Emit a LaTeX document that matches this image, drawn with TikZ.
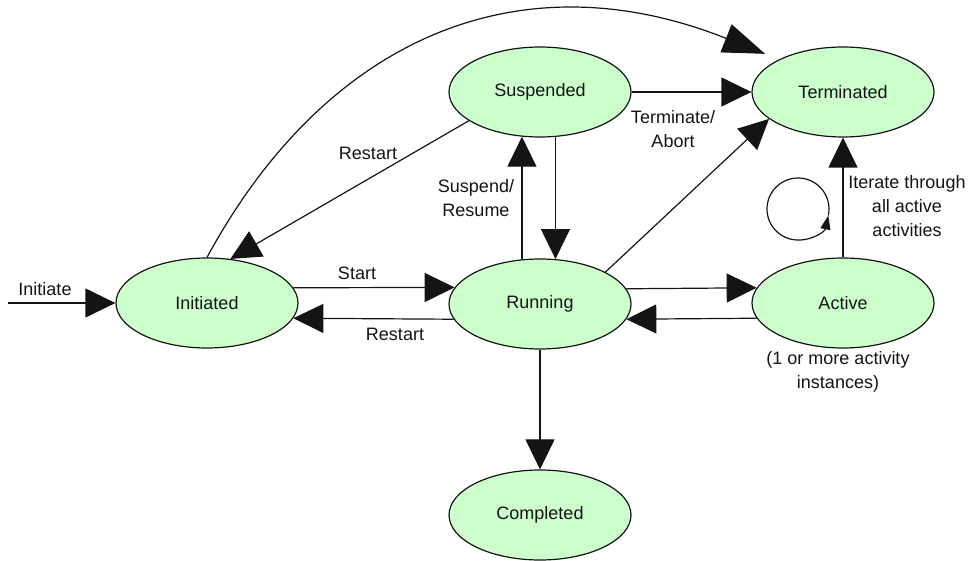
\documentclass[tikz,border=0pt]{standalone}
\usepackage{fontspec}
\setmainfont{Liberation Sans}
\usetikzlibrary{arrows.meta,shapes.geometric}
\definecolor{stategreen}{RGB}{204,255,204}
\definecolor{inkdark}{RGB}{20,20,20}
\tikzset{
  state/.style={ellipse, draw=inkdark, line width=1.2pt, fill=stategreen,
    minimum width=182pt, minimum height=90pt, inner sep=0pt,
    font=\fontsize{18}{24}\selectfont, text=inkdark},
  lbl/.style={inner sep=0pt, align=center, font=\fontsize{18}{24}\selectfont, text=inkdark},
  arr/.style={draw=inkdark, line width=1.2pt, -{Triangle[length=30pt,width=29pt]}},
  longarr/.style={draw=inkdark, line width=1.2pt, -{Triangle[length=42pt,width=30pt]}},
  looparr/.style={draw=inkdark, line width=1.2pt, -{Triangle[length=14pt,width=10pt]}}
}
\begin{document}
\begin{tikzpicture}[x=1pt,y=-1pt]
\useasboundingbox (0,0) rectangle (970,561);

% states
\node[state] (Init) at (207,303) {Initiated};
\node[state] (Run)  at (540,304) {Running};
\node[state] (Susp) at (540,92)  {Suspended};
\node[state] (Term) at (843,92)  {Terminated};
\node[state] (Act)  at (843,303) {Active};
\node[state] (Comp) at (540,515) {Completed};

% entry point
\coordinate (entry) at (8,303);
\draw[arr] (entry) -- (Init.west);
\node[lbl] (lInitiate) at (45,289) {Initiate};

% transitions
\draw[arr] (Init.10.5) -- (Run.169.5);
\node[lbl] (lStart) at (357,273) {Start};

\draw[arr] (Run.-170) -- (Init.-10);
\node[lbl] (lRestartB) at (395,334) {Restart};

\draw[arr] (Run.112) -- (Susp.-112);
\node[lbl] (lSuspend) at (476,198) {Suspend/\\Resume};

\draw[arr] (Susp.-71) -- (Run.71);

\draw[arr] (Susp.202) -- (Init.62);
\node[lbl] (lRestartT) at (368,153) {Restart};

\draw[arr] (Susp.east) -- (Term.west);
\node[lbl] (lTerminate) at (673,129) {Terminate/\\Abort};

\draw[arr] (Run.26) -- (Term.200.5);

\draw[arr] (Run.10) -- (Act.170);
\draw[arr] (Act.190) -- (Run.-10);

\draw[arr] (Act.north) -- (Term.south);
\node[lbl] (lIterate) at (907,206) {Iterate through\\all active\\activities};

\node[lbl] (lInstances) at (838,372) {(1 or more activity\\instances)};

\draw[arr] (Run.south) -- (Comp.north);

% long arc from Initiated over to Terminated
\draw[longarr, shorten >=15pt] (Init.north) .. controls (326,38) and (519,-44) .. (Term.153);

% iteration loop
\coordinate (loopc) at (798,209);
\draw[looparr] ([shift={(-12:31pt)}]loopc) arc[start angle=-12, end angle=348, radius=31pt];
\end{tikzpicture}
\end{document}
